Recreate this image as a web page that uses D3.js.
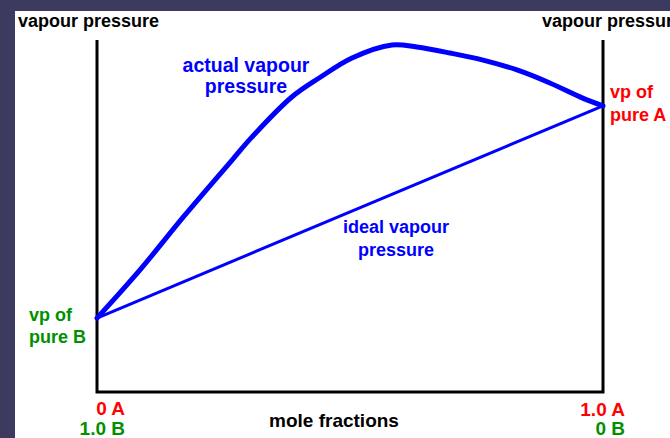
<!DOCTYPE html>
<html>
<head>
<meta charset="utf-8">
<script src="https://cdn.jsdelivr.net/npm/d3@7"></script>
<style>
  html, body { margin: 0; padding: 0; background: #3c3a5e; }
  svg { display: block; }
  text { font-family: "Liberation Sans", Arial, sans-serif; font-weight: bold; }
</style>
</head>
<body>
<svg id="chart" width="670" height="438"></svg>
<script>
// Mole fraction of A (0 = pure B, 1 = pure A)
const actualFraction = [0, 0.085, 0.174, 0.267, 0.306, 0.385, 0.439, 0.504, 0.583, 0.632, 0.698, 0.763, 0.83, 0.895, 0.96, 1];
// Actual (non-ideal) vapour pressure, arbitrary units
const actualPressure = [21.0, 34.7, 50.3, 65.9, 72.4, 83.8, 89.2, 94.9, 98.6, 98.0, 96.3, 94.3, 91.5, 87.8, 83.5, 81.3];
// Ideal (Raoult's law) line between the two pure-component pressures
const idealFraction = [0, 1];
const idealPressure = [21.0, 81.3];

const W = 670, H = 438;
const svg = d3.select("#chart");

// white slide panel
svg.append("rect").attr("x", 15).attr("y", 11).attr("width", W - 15).attr("height", H - 11).attr("fill", "#ffffff");

const x = d3.scaleLinear().domain([0, 1]).range([97, 603]);
const y = d3.scaleLinear().domain([0, 100]).range([392, 40]);

// frame: two pressure axes and the composition axis
svg.append("path")
  .attr("d", `M${x(0)},${y(100)}V${y(0)}H${x(1)}V${y(100)}`)
  .attr("fill", "none").attr("stroke", "#000").attr("stroke-width", 3);

const line = d3.line().x(d => x(d[0])).y(d => y(d[1]));

svg.append("path")
  .datum(d3.zip(idealFraction, idealPressure))
  .attr("d", line)
  .attr("fill", "none").attr("stroke", "#0000ff").attr("stroke-width", 3);

svg.append("path")
  .datum(d3.zip(actualFraction, actualPressure))
  .attr("d", line.curve(d3.curveCatmullRom.alpha(0.5)))
  .attr("fill", "none").attr("stroke", "#0000ff").attr("stroke-width", 5).attr("stroke-linecap", "round");

function label(lines, px, py, opts) {
  const t = svg.append("text")
    .attr("x", px).attr("y", py)
    .attr("fill", opts.color)
    .attr("font-size", opts.size)
    .attr("text-anchor", opts.anchor || "start");
  lines.forEach((s, i) => {
    t.append("tspan").attr("x", px).attr("dy", i === 0 ? 0 : opts.lh).text(s);
  });
}

label(["vapour pressure"], 18, 27, {color: "#000", size: 18});
label(["vapour pressure"], 542, 27, {color: "#000", size: 18});
label(["actual vapour", "pressure"], 246, 72, {color: "#0000ff", size: 19.5, lh: 21, anchor: "middle"});
label(["ideal vapour", "pressure"], 396, 233, {color: "#0000ff", size: 18, lh: 23, anchor: "middle"});
label(["vp of", "pure A"], 610, 98, {color: "#ff0000", size: 18, lh: 23});
label(["vp of", "pure B"], 29, 321, {color: "#009000", size: 18, lh: 22});
label(["0 A"], 125, 415, {color: "#ff0000", size: 19, anchor: "end"});
label(["1.0 B"], 125, 435, {color: "#009000", size: 19, anchor: "end"});
label(["1.0 A"], 625, 416, {color: "#ff0000", size: 19, anchor: "end"});
label(["0 B"], 625, 435, {color: "#009000", size: 19, anchor: "end"});
label(["mole fractions"], 334, 427, {color: "#000", size: 19, anchor: "middle"});
</script>
</body>
</html>
